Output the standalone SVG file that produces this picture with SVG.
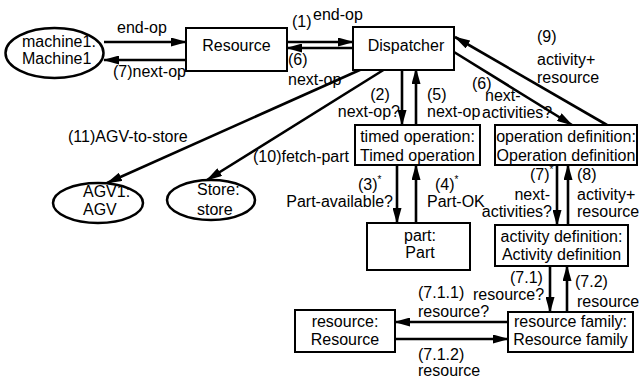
<svg xmlns="http://www.w3.org/2000/svg" width="639" height="378" viewBox="0 0 639 378">
<defs>
<marker id="ah" markerUnits="userSpaceOnUse" markerWidth="16" markerHeight="9" refX="15" refY="4.5" orient="auto">
<path d="M0,0 L16,4.5 L0,9 z" fill="#000"/>
</marker>
<style>
text{font-family:"Liberation Sans",Arial,sans-serif;font-size:16px;fill:#000}
.n{fill:#fff;stroke:#000;stroke-width:2}
.el{stroke-width:2.5}
.m{text-anchor:middle}
.e{text-anchor:end}
.c line{stroke:#000;stroke-width:2.6;marker-end:url(#ah)}
.sup{font-size:10px}
</style>
</defs>
<rect width="639" height="378" fill="#fff"/>
<g class="c" id="connectors">
<line x1="104" y1="42" x2="186" y2="42"/>
<line x1="186" y1="60" x2="104" y2="60"/>
<line x1="287" y1="42" x2="353" y2="42"/>
<line x1="353" y1="48" x2="287" y2="48"/>
<line x1="362" y1="69" x2="107" y2="183"/>
<line x1="385" y1="69" x2="207" y2="180"/>
<line x1="402" y1="69" x2="402" y2="125"/>
<line x1="416" y1="125" x2="416" y2="69"/>
<line x1="454" y1="52" x2="572" y2="125"/>
<line x1="607" y1="125" x2="455" y2="37"/>
<line x1="397" y1="165" x2="397" y2="223"/>
<line x1="416" y1="223" x2="416" y2="165"/>
<line x1="557" y1="165" x2="557" y2="225"/>
<line x1="568" y1="225" x2="568" y2="165"/>
<line x1="550" y1="266" x2="550" y2="312"/>
<line x1="567" y1="312" x2="567" y2="266"/>
<line x1="508" y1="322" x2="395" y2="322"/>
<line x1="395" y1="339" x2="508" y2="339"/>
</g>
<g id="edge-labels">
<text x="117" y="33">end-op</text>
<text x="113" y="77">(7)next-op</text>
<text x="292" y="27">(1)</text><text x="313" y="20">end-op</text>
<text x="288" y="65">(6)</text><text x="288" y="85">next-op</text>
<text x="68" y="142">(11)AGV-to-store</text>
<text x="253" y="162">(10)fetch-part</text>
<text x="380" y="100" class="m">(2)</text><text x="400" y="117" class="e">next-op?</text>
<text x="427" y="100">(5)</text><text x="427" y="117">next-op</text>
<text x="472" y="89">(6)</text><text x="485" y="101">next-</text><text x="482" y="118">activities?</text>
<text x="537" y="42">(9)</text><text x="537" y="65">activity+</text><text x="537" y="83">resource</text>
<text x="358" y="190">(3)<tspan class="sup" dy="-7">*</tspan></text><text x="393" y="207" class="e">Part-available?</text>
<text x="435" y="190">(4)<tspan class="sup" dy="-7">*</tspan></text><text x="427" y="207">Part-OK</text>
<text x="530" y="180">(7)<tspan class="sup" dy="-7">*</tspan></text><text x="550" y="200" class="e">next-</text><text x="552" y="217" class="e">activities?</text>
<text x="577" y="180">(8)</text><text x="577" y="200">activity+</text><text x="577" y="217">resource</text>
<text x="510" y="283">(7.1)</text><text x="473" y="300">resource?</text>
<text x="575" y="287">(7.2)</text><text x="577" y="307">resource</text>
<text x="418" y="298">(7.1.1)</text><text x="418" y="317">resource?</text>
<text x="418" y="360">(7.1.2)</text><text x="418" y="376">resource</text>
</g>
<g id="machine1">
<ellipse class="n el" cx="54.5" cy="53" rx="49" ry="25"/>
<text x="22" y="47">machine1.</text><text x="22" y="64">Machine1</text>
</g>
<g id="resource-top">
<rect class="n" x="186" y="28" width="101" height="43"/>
<text x="236.5" y="51" class="m">Resource</text>
</g>
<g id="dispatcher">
<rect class="n" x="353" y="27" width="101" height="43"/>
<text x="406" y="51" class="m">Dispatcher</text>
</g>
<g id="timed-operation">
<rect class="n" x="355" y="125" width="125" height="40"/>
<text x="417.5" y="142" class="m">timed operation:</text>
<text x="417.5" y="161" class="m">Timed operation</text>
</g>
<g id="operation-definition">
<rect class="n" x="495" y="125" width="142" height="40"/>
<text x="566" y="142" class="m">operation definition:</text>
<text x="566" y="161" class="m">Operation definition</text>
</g>
<g id="agv1">
<ellipse class="n el" cx="98" cy="203" rx="45" ry="20"/>
<text x="83" y="197">AGV1:</text><text x="83" y="215">AGV</text>
</g>
<g id="store">
<ellipse class="n el" cx="211" cy="200" rx="44" ry="20"/>
<text x="197" y="195">Store:</text><text x="197" y="215">store</text>
</g>
<g id="part">
<rect class="n" x="367" y="223" width="103" height="47"/>
<text x="420" y="241" class="m">part:</text><text x="420" y="258" class="m">Part</text>
</g>
<g id="activity-definition">
<rect class="n" x="495" y="225" width="133" height="41"/>
<text x="561.5" y="242" class="m">activity definition:</text>
<text x="561.5" y="260" class="m">Activity definition</text>
</g>
<g id="resource-family">
<rect class="n" x="508" y="312" width="125" height="40"/>
<text x="570.5" y="327" class="m">resource family:</text>
<text x="570.5" y="345" class="m">Resource family</text>
</g>
<g id="resource-bottom">
<rect class="n" x="295" y="310" width="100" height="42"/>
<text x="345" y="327" class="m">resource:</text>
<text x="345" y="345" class="m">Resource</text>
</g>
</svg>
